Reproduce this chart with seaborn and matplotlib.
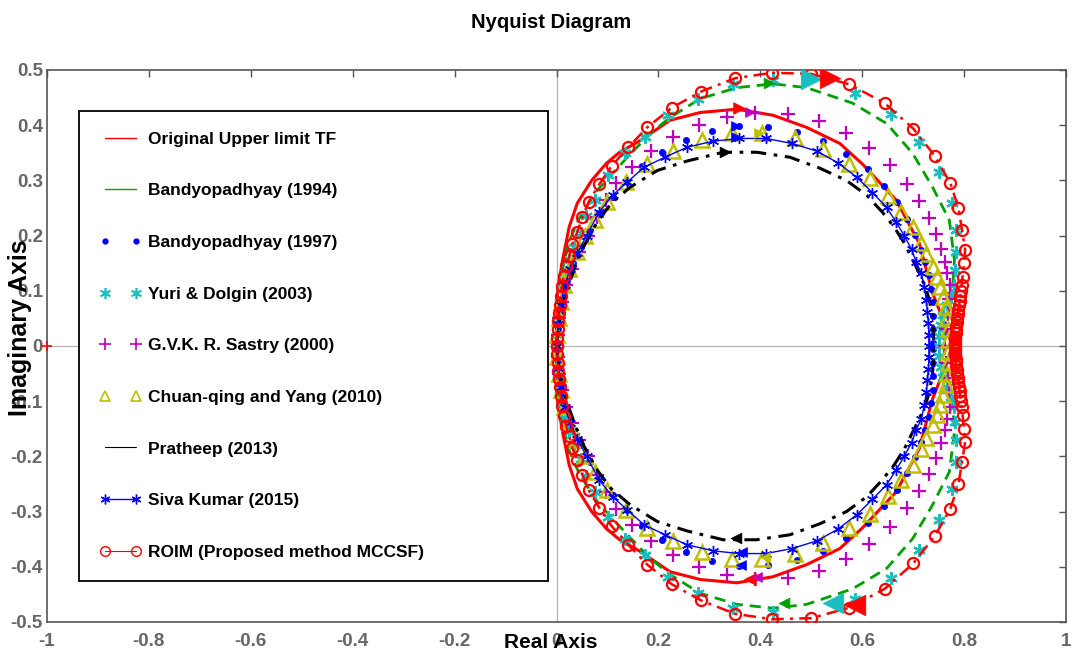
import numpy as np
import pandas as pd
import matplotlib
matplotlib.use("Agg")
import matplotlib.pyplot as plt
import seaborn as sns
from matplotlib.lines import Line2D

# ---------------- data (upper half of each Nyquist curve) ----------
ORIG_X = [0.000, 0.002, 0.012, 0.025, 0.041, 0.069, 0.098, 0.124, 0.164, 0.223, 0.282, 0.354,
          0.425, 0.491, 0.556, 0.600, 0.667, 0.712, 0.738, 0.760, 0.777]
ORIG_Y = [0.000, 0.100, 0.156, 0.216, 0.259, 0.300, 0.331, 0.351, 0.372, 0.409, 0.423, 0.429,
          0.418, 0.396, 0.367, 0.330, 0.264, 0.186, 0.096, 0.045, 0.000]

B94_X = [0.000, 0.004, 0.012, 0.025, 0.045, 0.080, 0.139, 0.184, 0.223, 0.282, 0.354, 0.425,
         0.491, 0.581, 0.648, 0.699, 0.738, 0.771, 0.781, 0.777, 0.765, 0.760]
B94_Y = [0.000, 0.080, 0.140, 0.190, 0.232, 0.282, 0.342, 0.385, 0.414, 0.448, 0.468, 0.475,
         0.468, 0.440, 0.403, 0.349, 0.288, 0.228, 0.156, 0.096, 0.040, 0.000]

B97_X = [0.002, 0.006, 0.012, 0.020, 0.032, 0.048, 0.065, 0.085, 0.110, 0.138, 0.168, 0.207,
         0.254, 0.305, 0.358, 0.415, 0.472, 0.523, 0.569, 0.611, 0.642, 0.669, 0.687, 0.704,
         0.716, 0.724, 0.732, 0.736, 0.738, 0.739, 0.739, 0.739]
B97_Y = [0.030, 0.060, 0.090, 0.120, 0.150, 0.180, 0.210, 0.240, 0.270, 0.298, 0.326, 0.351,
         0.374, 0.389, 0.398, 0.396, 0.387, 0.371, 0.347, 0.320, 0.289, 0.260, 0.230, 0.201,
         0.174, 0.152, 0.128, 0.103, 0.080, 0.055, 0.030, 0.005]

YURI_X = [0.001, 0.003, 0.006, 0.010, 0.016, 0.024, 0.035, 0.048, 0.058, 0.075, 0.102, 0.135,
          0.174, 0.219, 0.278, 0.346, 0.425, 0.585, 0.657, 0.712, 0.751, 0.777, 0.785, 0.785,
          0.783, 0.781, 0.774, 0.766, 0.759, 0.754, 0.751, 0.750]
YURI_Y = [0.020, 0.050, 0.080, 0.105, 0.130, 0.155, 0.180, 0.205, 0.235, 0.265, 0.309, 0.349,
          0.378, 0.418, 0.448, 0.475, 0.481, 0.459, 0.420, 0.369, 0.315, 0.259, 0.210, 0.170,
          0.137, 0.110, 0.092, 0.074, 0.056, 0.038, 0.019, 0.000]

SAS_X = [0.002, 0.005, 0.010, 0.018, 0.030, 0.045, 0.062, 0.080, 0.097, 0.117, 0.149, 0.186,
         0.229, 0.280, 0.335, 0.389, 0.454, 0.515, 0.569, 0.614, 0.655, 0.687, 0.712, 0.732,
         0.745, 0.755, 0.763, 0.767, 0.772, 0.771, 0.768, 0.765, 0.763]
SAS_Y = [0.020, 0.050, 0.080, 0.110, 0.140, 0.170, 0.200, 0.233, 0.265, 0.295, 0.324, 0.353,
         0.378, 0.400, 0.414, 0.423, 0.421, 0.407, 0.385, 0.358, 0.327, 0.293, 0.262, 0.231,
         0.203, 0.175, 0.152, 0.132, 0.110, 0.085, 0.058, 0.030, 0.000]

CHU_X = [0.001, 0.004, 0.008, 0.015, 0.025, 0.040, 0.055, 0.075, 0.100, 0.137, 0.178, 0.229,
         0.286, 0.344, 0.403, 0.468, 0.523, 0.575, 0.616, 0.650, 0.677, 0.699, 0.716, 0.726,
         0.738, 0.746, 0.753, 0.759, 0.764, 0.767, 0.768, 0.768]
CHU_Y = [0.020, 0.050, 0.080, 0.110, 0.140, 0.170, 0.200, 0.228, 0.260, 0.298, 0.329, 0.353,
         0.373, 0.385, 0.385, 0.376, 0.356, 0.329, 0.304, 0.271, 0.242, 0.215, 0.186, 0.166,
         0.143, 0.125, 0.107, 0.089, 0.070, 0.050, 0.030, 0.010]

PRA_X = [0.000, 0.005, 0.010, 0.020, 0.035, 0.055, 0.080, 0.108, 0.145, 0.198, 0.256, 0.327,
         0.393, 0.458, 0.517, 0.569, 0.609, 0.640, 0.663, 0.683, 0.699, 0.712, 0.724, 0.732,
         0.738, 0.740, 0.740]
PRA_Y = [0.000, 0.040, 0.070, 0.100, 0.140, 0.183, 0.225, 0.259, 0.288, 0.318, 0.335, 0.351,
         0.351, 0.342, 0.322, 0.300, 0.273, 0.242, 0.215, 0.186, 0.156, 0.132, 0.107, 0.083,
         0.050, 0.020, 0.000]

SIVA_X = [0.000, 0.003, 0.008, 0.016, 0.027, 0.041, 0.059, 0.084, 0.110, 0.139, 0.172, 0.213,
          0.256, 0.307, 0.358, 0.411, 0.462, 0.511, 0.552, 0.589, 0.620, 0.648, 0.667, 0.683,
          0.697, 0.706, 0.716, 0.722, 0.726, 0.728, 0.730, 0.731, 0.731]
SIVA_Y = [0.000, 0.040, 0.075, 0.110, 0.140, 0.168, 0.200, 0.243, 0.273, 0.297, 0.324, 0.342,
          0.360, 0.371, 0.376, 0.376, 0.367, 0.353, 0.332, 0.306, 0.278, 0.251, 0.224, 0.199,
          0.175, 0.152, 0.132, 0.107, 0.083, 0.062, 0.041, 0.020, 0.000]

ROIM_X = [0.000, 0.001, 0.002, 0.003, 0.004, 0.006, 0.008, 0.011, 0.014, 0.019, 0.025, 0.031,
          0.041, 0.051, 0.063, 0.084, 0.108, 0.141, 0.178, 0.227, 0.284, 0.350, 0.423, 0.500,
          0.575, 0.644, 0.700, 0.742, 0.773, 0.789, 0.796, 0.802, 0.800, 0.797, 0.795, 0.794,
          0.792, 0.791, 0.790, 0.789, 0.788, 0.787, 0.786, 0.785, 0.784, 0.784, 0.783, 0.783,
          0.783, 0.782, 0.782]
ROIM_Y = [0.000, 0.015, 0.030, 0.045, 0.060, 0.075, 0.090, 0.108, 0.127, 0.145, 0.163, 0.185,
          0.207, 0.234, 0.261, 0.293, 0.326, 0.360, 0.396, 0.432, 0.461, 0.485, 0.495, 0.493,
          0.474, 0.440, 0.394, 0.345, 0.295, 0.250, 0.210, 0.174, 0.150, 0.125, 0.110, 0.100,
          0.090, 0.082, 0.074, 0.066, 0.058, 0.050, 0.043, 0.036, 0.029, 0.023, 0.017, 0.012,
          0.007, 0.003, 0.000]

# direction arrows (upper x, upper y, lower x, lower y)
ARROW_ORIG = [0.359, 0.431, 0.379, -0.422]
ARROW_B94 = [0.418, 0.476, 0.447, -0.466]
ARROW_B97 = [0.353, 0.398, 0.363, -0.397]
ARROW_YURI = [0.500, 0.484, 0.542, -0.466]
ARROW_SAS = [0.379, 0.424, 0.393, -0.418]
ARROW_CHU = [0.398, 0.386, 0.410, -0.383]
ARROW_PRA = [0.330, 0.351, 0.353, -0.348]
ARROW_SIVA = [0.353, 0.379, 0.365, -0.373]
ARROW_ROIM = [0.536, 0.486, 0.585, -0.469]

LABELS = ["Original Upper limit TF", "Bandyopadhyay (1994)", "Bandyopadhyay (1997)",
          "Yuri & Dolgin (2003)", "G.V.K. R. Sastry (2000)", "Chuan-qing and Yang (2010)",
          "Pratheep (2013)", "Siva Kumar (2015)", "ROIM (Proposed method MCCSF)"]

X_TICKS = [-1, -0.8, -0.6, -0.4, -0.2, 0, 0.2, 0.4, 0.6, 0.8, 1]
Y_TICKS = [-0.5, -0.4, -0.3, -0.2, -0.1, 0, 0.1, 0.2, 0.3, 0.4, 0.5]

# ---------------- style ----------------
sns.set_theme(style="white")
plt.rcParams['font.family'] = ['Liberation Sans', 'DejaVu Sans']
plt.rcParams['font.weight'] = 'bold'

RED = '#ff0000'
GREEN = '#00a000'
BLUE = '#0000ff'
CYAN = '#19bfbf'
MAG = '#bf00bf'
YEL = '#bfbf00'
BLK = '#000000'
ASTER = (6, 2, 0)   # MATLAB-like asterisk

fig = plt.figure(figsize=(10.73, 6.57), dpi=100, facecolor='white')
ax = fig.add_axes([47 / 1073, 1 - 622 / 657, (1066 - 47) / 1073, (622 - 70) / 657])
ax.set_facecolor('white')


def full_curve(x, y):
    x = np.asarray(x, float)
    y = np.asarray(y, float)
    if y[-1] == 0:
        xr, yr = x[::-1][1:], -y[::-1][1:]
    else:
        xr, yr = x[::-1], -y[::-1]
    return pd.DataFrame({'x': np.concatenate([x, xr]), 'y': np.concatenate([y, yr])})


def draw(x, y, **kw):
    df = full_curve(x, y)
    sns.lineplot(data=df, x='x', y='y', sort=False, estimator=None, ax=ax,
                 legend=False, **kw)


def arrows(a, color, s):
    sns.scatterplot(x=[a[0]], y=[a[1]], marker='>', s=s, color=color,
                    edgecolor=color, linewidth=0.5, ax=ax, legend=False, zorder=6)
    sns.scatterplot(x=[a[2]], y=[a[3]], marker='<', s=s, color=color,
                    edgecolor=color, linewidth=0.5, ax=ax, legend=False, zorder=6)


ax.axhline(0, color='#b4b4b4', lw=0.9, zorder=0)
ax.axvline(0, color='#b4b4b4', lw=0.9, zorder=0)

draw(ORIG_X, ORIG_Y, color=RED, lw=2.2, zorder=2)
draw(B94_X, B94_Y, color=GREEN, lw=2.0, linestyle=(0, (4, 2.5)), zorder=2)
draw(B97_X, B97_Y, color=BLUE, linestyle='', marker='o', markersize=4.5,
     markerfacecolor=BLUE, markeredgecolor=BLUE, markeredgewidth=0.5, zorder=3)
draw(YURI_X, YURI_Y, color=CYAN, linestyle='', marker=ASTER, markersize=9,
     markerfacecolor=CYAN, markeredgecolor=CYAN, markeredgewidth=1.6, zorder=3)
draw(SAS_X, SAS_Y, color=MAG, linestyle='', marker='+', markersize=10,
     markerfacecolor=MAG, markeredgecolor=MAG, markeredgewidth=1.6, zorder=3)
draw(CHU_X, CHU_Y, color=YEL, linestyle='', marker='^', markersize=10,
     markerfacecolor='none', markeredgecolor=YEL, markeredgewidth=1.8, zorder=3)
draw(PRA_X, PRA_Y, color=BLK, lw=2.2, linestyle=(0, (5, 2.5, 1.2, 2.5)), zorder=3)
draw(SIVA_X, SIVA_Y, color=BLUE, lw=1.0, marker=ASTER, markersize=8,
     markerfacecolor=BLUE, markeredgecolor=BLUE, markeredgewidth=1.0, zorder=4)
draw(ROIM_X, ROIM_Y, color=RED, lw=1.8, linestyle=(0, (5, 2.5, 1.2, 2.5)), marker='o',
     markersize=8, markerfacecolor='none', markeredgecolor=RED, markeredgewidth=1.6, zorder=5)

arrows(ARROW_ORIG, RED, 70)
arrows(ARROW_B94, GREEN, 60)
arrows(ARROW_B97, BLUE, 50)
arrows(ARROW_SAS, MAG, 50)
arrows(ARROW_CHU, YEL, 50)
arrows(ARROW_PRA, BLK, 60)
arrows(ARROW_SIVA, BLUE, 50)
arrows(ARROW_YURI, CYAN, 220)
arrows(ARROW_ROIM, RED, 220)

# critical point
sns.scatterplot(x=[-1], y=[0], marker='+', s=50, color=RED, linewidth=1.2, ax=ax,
                legend=False, zorder=6, clip_on=False)

ax.set_xlim(-1, 1)
ax.set_ylim(-0.5, 0.5)
ax.set_xticks(X_TICKS)
ax.set_yticks(Y_TICKS)
ax.set_xticklabels([f"{v:g}" for v in X_TICKS])
ax.set_yticklabels([f"{v:g}" for v in Y_TICKS])
ax.tick_params(axis='both', direction='in', length=5, width=1, color='#555555',
               top=True, right=True, labelsize=13.5, labelcolor='#666666')
ax.tick_params(axis='x', pad=8)
ax.tick_params(axis='y', pad=3)
for lab in ax.get_xticklabels() + ax.get_yticklabels():
    lab.set_fontweight('bold')
for sp in ax.spines.values():
    sp.set_visible(True)
    sp.set_color('#555555')
    sp.set_linewidth(1.2)

ax.set_xlabel("Real Axis", fontsize=15, fontweight='bold', color='black', va='center')
ax.xaxis.set_label_coords((551 - 47) / 1019, (622 - 643) / 552)
ax.set_ylabel("Imaginary Axis", fontsize=18, fontweight='bold', color='black', va='center')
ax.yaxis.set_label_coords((20 - 47) / 1019, (622 - 328) / 552)
fig.text(551 / 1073, 1 - 22 / 657, "Nyquist Diagram", ha='center', va='center',
         fontsize=14.5, fontweight='bold', color='black')

handles = [
    Line2D([], [], color=RED, lw=1.0),
    Line2D([], [], color=GREEN, lw=1.0),
    Line2D([], [], color=BLUE, ls='', marker='o', ms=3.5),
    Line2D([], [], color=CYAN, ls='', marker=ASTER, ms=8, mew=1.2),
    Line2D([], [], color=MAG, ls='', marker='+', ms=8, mew=1.2),
    Line2D([], [], color=YEL, ls='', marker='^', ms=7, mfc='none', mew=1.2),
    Line2D([], [], color=BLK, lw=0.8),
    Line2D([], [], color=BLUE, lw=1.0, marker=ASTER, ms=7, mew=1.0),
    Line2D([], [], color=RED, lw=0.8, marker='o', ms=7, mfc='none', mew=1.0),
]
leg = ax.legend(handles, LABELS, loc='upper left', bbox_to_anchor=(0.031, 0.071, 0.461, 0.855),
                mode='expand', borderaxespad=0, numpoints=2, fontsize=12.5,
                frameon=True, fancybox=False, shadow=False, framealpha=1,
                edgecolor='black', borderpad=1.2, labelspacing=2.1,
                handlelength=2.4, handletextpad=0.4)
leg.get_frame().set_linewidth(1.3)
for t in leg.get_texts():
    t.set_fontweight('bold')
    t.set_color('black')

fig.savefig("out.png", dpi=100, facecolor='white')
